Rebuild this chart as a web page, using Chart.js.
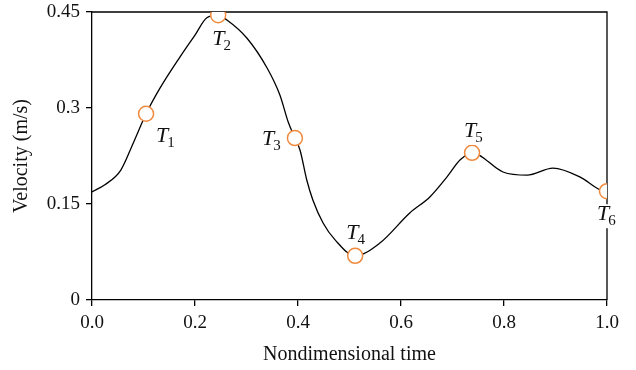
<!DOCTYPE html>
<html>
<head>
<meta charset="utf-8">
<script src="https://cdn.jsdelivr.net/npm/chart.js@4.4.1/dist/chart.umd.min.js"></script>
<style>
  html, body { margin: 0; padding: 0; background: #fff; }
  #wrap { width: 636px; height: 370px; }
</style>
</head>
<body>
<div id="wrap"><canvas id="chart"></canvas></div>
<script>
// velocity curve
const timeX = [0, 0.025, 0.056, 0.080, 0.105, 0.132, 0.171, 0.200, 0.223, 0.245,
               0.262, 0.301, 0.340, 0.365, 0.381, 0.394, 0.404, 0.417, 0.429, 0.449,
               0.472, 0.511, 0.559, 0.617, 0.656, 0.689, 0.715, 0.738, 0.798, 0.845,
               0.895, 0.948, 0.987, 1.0];
const velocity = [0.169, 0.180, 0.203, 0.245, 0.291, 0.331, 0.380, 0.414, 0.441, 0.445,
                  0.4375, 0.409, 0.3625, 0.320, 0.278, 0.253, 0.234, 0.1875, 0.156, 0.120,
                  0.094, 0.069, 0.089, 0.136, 0.161, 0.192, 0.219, 0.230, 0.200, 0.195,
                  0.206, 0.192, 0.172, 0.170];

// marked instants T1..T6
const markNames = ["1", "2", "3", "4", "5", "6"];
const markX = [0.105, 0.245, 0.394, 0.511, 0.738, 1.0];
const markY = [0.291, 0.445, 0.253, 0.069, 0.230, 0.170];

const xTicks = [0, 0.2, 0.4, 0.6, 0.8, 1.0];
const yTicks = [0, 0.15, 0.3, 0.45];
const yTickLabels = ["0", "0.15", "0.3", "0.45"];

// where each T label sits relative to its marker (text left, baseline)
const labelOffsets = [[10, 28], [-6, 30], [-33, 7], [-9, -17], [-8, -16], [-10, 29]];

const serif = "'Liberation Serif', 'DejaVu Serif', serif";
const orange = "#F08A3E";

const framePlugin = {
  id: "frame",
  beforeDatasetsDraw(chart) {
    const a = chart.chartArea, ctx = chart.ctx;
    ctx.save();
    ctx.strokeStyle = "#000";
    ctx.lineWidth = 1.3;
    ctx.beginPath();
    ctx.moveTo(a.left, a.top);
    ctx.lineTo(a.right, a.top);
    ctx.lineTo(a.right, a.bottom);
    ctx.stroke();
    ctx.restore();
  },
  afterDatasetsDraw(chart) {
    const ctx = chart.ctx, xs = chart.scales.x, ys = chart.scales.y;
    ctx.save();
    markNames.forEach((n, i) => {
      const px = xs.getPixelForValue(markX[i]) + labelOffsets[i][0];
      const py = ys.getPixelForValue(markY[i]) + labelOffsets[i][1];
      ctx.font = "italic 22px " + serif;
      const tw = ctx.measureText("T").width;
      ctx.font = "15px " + serif;
      const sw = ctx.measureText(n).width;
      // white box behind the label so the frame line breaks under it
      ctx.fillStyle = "#fff";
      ctx.fillRect(px - 1, py - 16, tw + sw + 3, 24);
      ctx.fillStyle = "#111";
      ctx.textBaseline = "alphabetic";
      ctx.textAlign = "left";
      ctx.font = "italic 22px " + serif;
      ctx.fillText("T", px, py);
      ctx.font = "15px " + serif;
      ctx.fillText(n, px + tw - 1, py + 5);
    });
    ctx.restore();
  }
};

new Chart(document.getElementById("chart"), {
  type: "scatter",
  data: {
    datasets: [
      {
        label: "marks",
        data: markX.map((x, i) => ({ x: x, y: markY[i] })),
        showLine: false,
        pointRadius: 7.5,
        pointBorderWidth: 1.5,
        pointBorderColor: orange,
        pointBackgroundColor: "#fff",
        order: 0
      },
      {
        label: "velocity",
        data: timeX.map((x, i) => ({ x: x, y: velocity[i] })),
        showLine: true,
        borderColor: "#000",
        borderWidth: 1.3,
        pointRadius: 0,
        cubicInterpolationMode: "monotone",
        order: 1
      }
    ]
  },
  options: {
    responsive: true,
    maintainAspectRatio: false,
    animation: false,
    layout: { padding: { left: 0, top: 12, right: 29, bottom: 0 } },
    plugins: {
      legend: { display: false },
      tooltip: { enabled: false }
    },
    scales: {
      x: {
        type: "linear",
        min: 0, max: 1,
        afterBuildTicks: (s) => { s.ticks = xTicks.map(v => ({ value: v })); },
        afterFit: (s) => { s.height = 70; s.paddingLeft = 0; s.paddingRight = 0; },
        ticks: {
          color: "#111",
          font: { family: serif, size: 19 },
          padding: 6,
          maxRotation: 0,
          callback: (v) => Number(v).toFixed(1)
        },
        grid: { drawOnChartArea: false, color: "#000", tickLength: 6, lineWidth: 1.3 },
        border: { color: "#000", width: 1.3 },
        title: {
          display: true,
          text: "Nondimensional time",
          color: "#111",
          font: { family: serif, size: 20 },
          padding: { top: 2, bottom: 3 }
        }
      },
      y: {
        min: 0, max: 0.45,
        afterBuildTicks: (s) => { s.ticks = yTicks.map(v => ({ value: v })); },
        afterFit: (s) => { s.width = 92; s.paddingTop = 0; s.paddingBottom = 0; },
        ticks: {
          color: "#111",
          font: { family: serif, size: 19 },
          padding: 6,
          callback: (v) => yTickLabels[yTicks.indexOf(v)]
        },
        grid: { drawOnChartArea: false, color: "#000", tickLength: 6, lineWidth: 1.3 },
        border: { color: "#000", width: 1.3 },
        title: {
          display: true,
          text: "Velocity (m/s)",
          color: "#111",
          font: { family: serif, size: 20 },
          padding: { top: 10, bottom: 4 }
        }
      }
    }
  },
  plugins: [framePlugin]
});
</script>
</body>
</html>
